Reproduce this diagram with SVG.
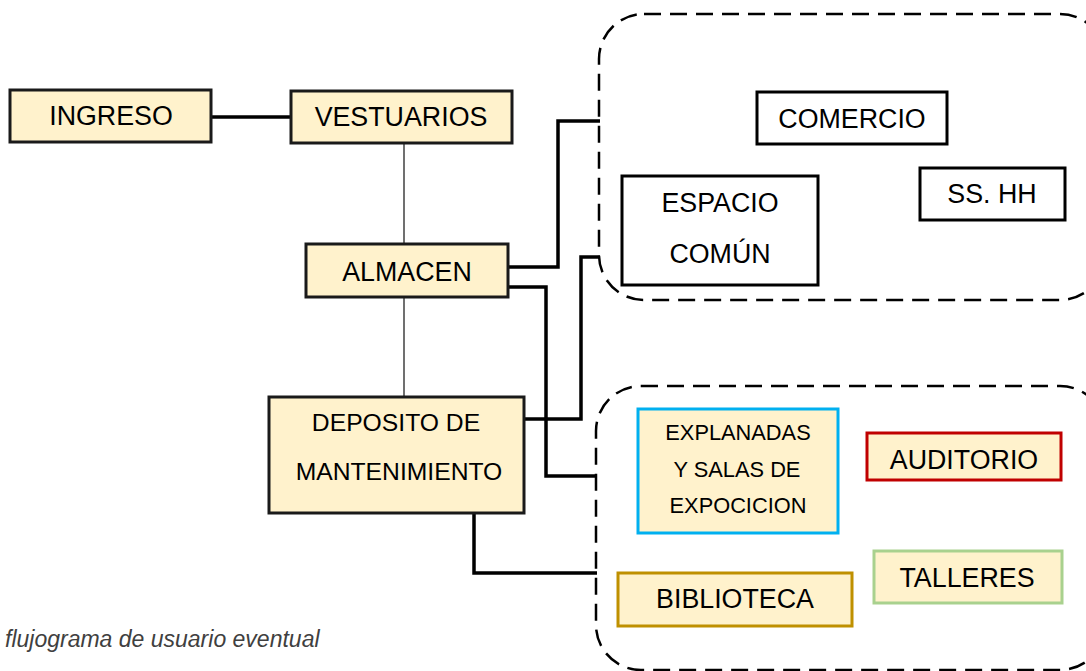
<svg xmlns="http://www.w3.org/2000/svg" width="1086" height="671" viewBox="0 0 1086 671">
<style>
text{font-family:"Liberation Sans",Arial,sans-serif;font-size:26.8px;fill:#000;text-anchor:middle}
.tan{fill:#FFF2CC;stroke:#1a1a1a;stroke-width:3}
.wb{fill:#fff;stroke:#000;stroke-width:3}
.thick{fill:none;stroke:#000;stroke-width:3.5}
.thin{fill:none;stroke:#404040;stroke-width:1.5}
.zone{fill:none;stroke:#000;stroke-width:2.5;stroke-dasharray:17 9}
</style>
<g id="zone-top"><rect class="zone" x="599" y="14" width="506" height="286" rx="45"/></g>
<g id="zone-bottom"><rect class="zone" x="596" y="386" width="509" height="284" rx="45"/></g>
<g id="connectors">
<line class="thick" x1="211" y1="117" x2="291" y2="117"/>
<line class="thin" x1="404" y1="143" x2="404" y2="244"/>
<line class="thin" x1="404" y1="297" x2="404" y2="397"/>
<polyline class="thick" points="508,267 558,267 558,121 600,121"/>
<polyline class="thick" points="508,287 546,287 546,476 597,476"/>
<polyline class="thick" points="524,419 581,419 581,257 600,257"/>
<polyline class="thick" points="474,513 474,573 597,573"/>
</g>
<g id="ingreso"><rect class="tan" x="10" y="90" width="201" height="52"/><text x="111" y="125">INGRESO</text></g>
<g id="vestuarios"><rect class="tan" x="291" y="91" width="221" height="52"/><text x="401" y="126">VESTUARIOS</text></g>
<g id="almacen"><rect class="tan" x="306" y="244" width="202" height="53"/><text x="407" y="281">ALMACEN</text></g>
<g id="deposito"><rect class="tan" x="269" y="397" width="255" height="116"/><text x="396" y="431" style="font-size:24.7px">DEPOSITO DE</text><text x="399" y="480" style="font-size:24.7px">MANTENIMIENTO</text></g>
<g id="comercio"><rect class="wb" x="757" y="92" width="190" height="52"/><text x="852" y="128">COMERCIO</text></g>
<g id="sshh"><rect class="wb" x="920" y="168" width="145" height="52"/><text x="992" y="203">SS. HH</text></g>
<g id="espacio"><rect class="wb" x="622" y="176" width="196" height="109"/><text x="720" y="212">ESPACIO</text><text x="720" y="263">COMÚN</text></g>
<g id="explanadas"><rect class="tan" style="stroke:#00B0F0" x="638" y="409" width="200" height="124"/><text x="738" y="440" style="font-size:21.8px">EXPLANADAS</text><text x="737" y="477" style="font-size:21.8px">Y SALAS DE</text><text x="738" y="513" style="font-size:21.8px">EXPOCICION</text></g>
<g id="auditorio"><rect class="tan" style="stroke:#C00000" x="867" y="433" width="194" height="47"/><text x="964" y="469">AUDITORIO</text></g>
<g id="talleres"><rect class="tan" style="stroke:#A9D18E" x="874" y="551" width="188" height="52"/><text x="967" y="587">TALLERES</text></g>
<g id="biblioteca"><rect class="tan" style="stroke:#BF9000" x="618" y="573" width="234" height="53"/><text x="735" y="608">BIBLIOTECA</text></g>
<text x="5" y="647" style="font-size:23px;font-style:italic;fill:#404040;text-anchor:start">flujograma de usuario eventual</text>
</svg>
